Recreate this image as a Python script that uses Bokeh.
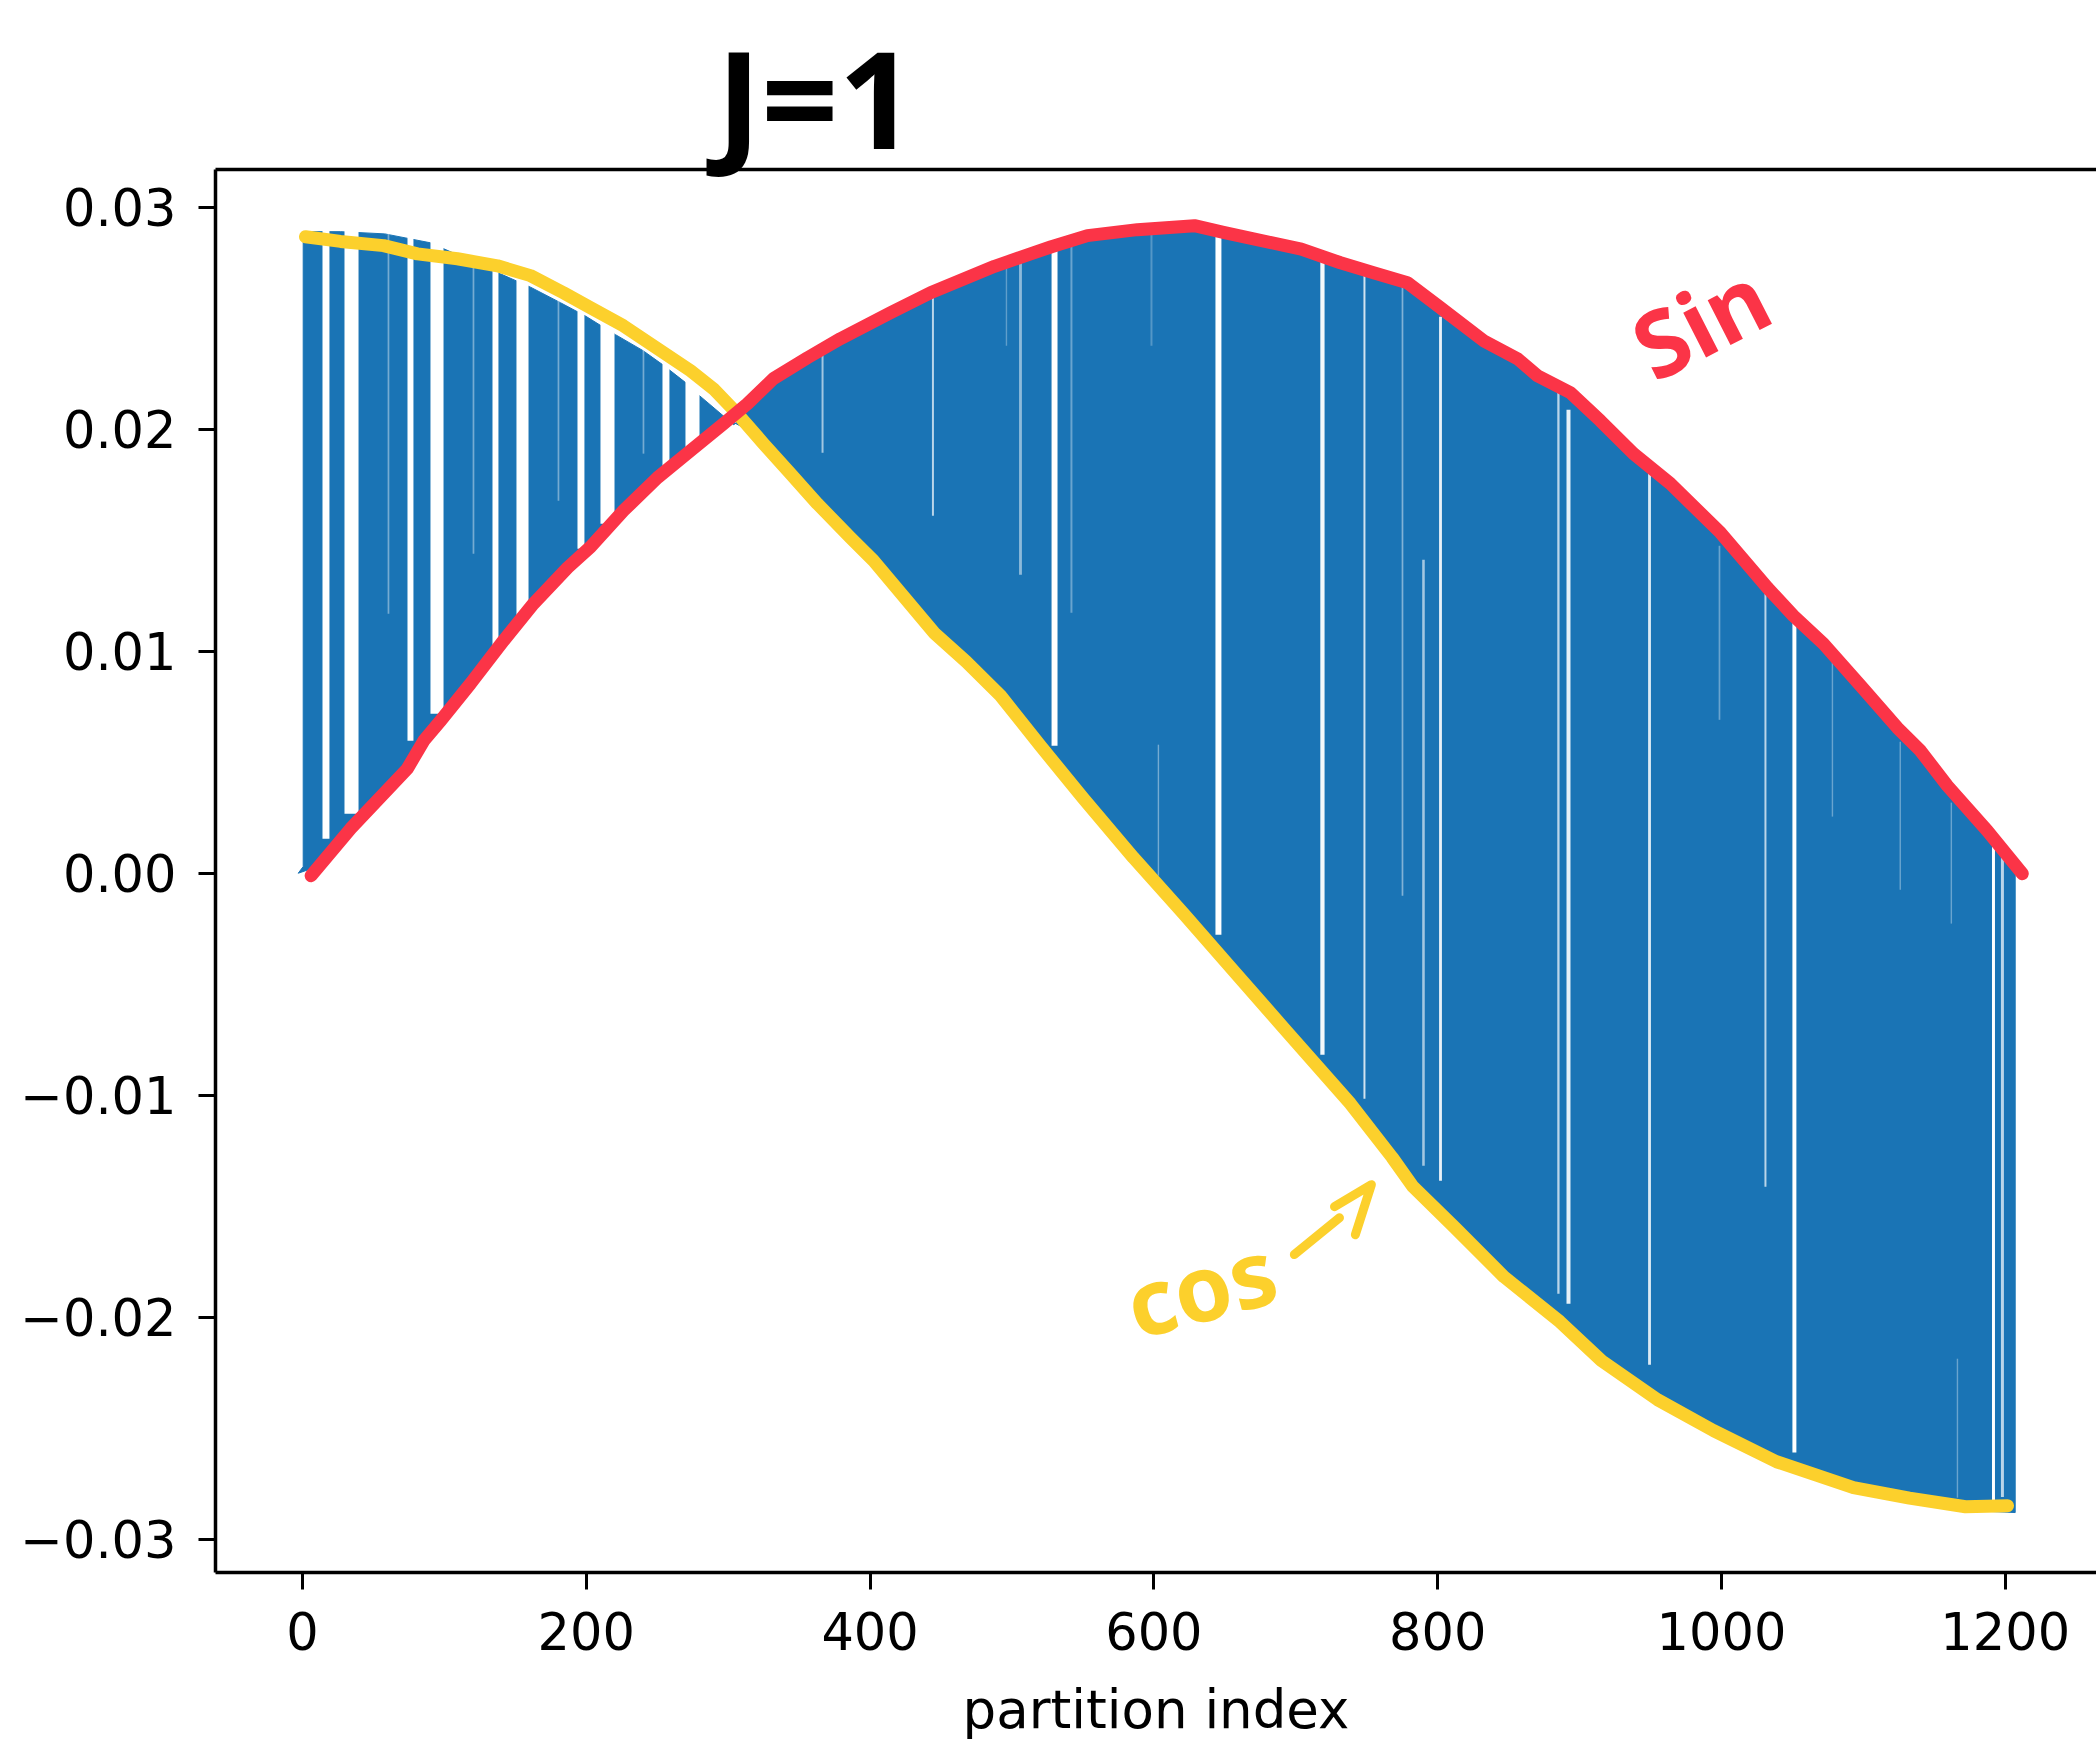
from bokeh.plotting import figure
from bokeh.models import FixedTicker, LinearAxis, Label, Title
from bokeh.embed import file_html
from bokeh.resources import INLINE
import math

# hand-drawn curves
sin_x = [6.1, 33.8, 73.8, 85.5, 97.3, 118.4, 141.6, 162.8, 186.8, 203, 226.2, 250.2, 273.4, 296.7, 313.6, 331.9, 355.9, 379.1, 414.4, 442.6, 487.7, 527.8, 553.2, 588.4, 628.6, 649, 703.9, 731.5, 754.8, 778.7, 802, 832.3, 856.2, 870.3, 893.6, 914.7, 938, 964, 999.3, 1032.4, 1050.7, 1071.9, 1098, 1124, 1140.2, 1159.2, 1187.4, 1212]
sin_y = [-0.00011, 0.002, 0.0047, 0.00597, 0.00687, 0.00854, 0.01047, 0.01214, 0.01376, 0.0147, 0.01633, 0.01782, 0.01903, 0.02025, 0.02115, 0.02228, 0.02322, 0.02408, 0.02525, 0.02615, 0.02734, 0.02822, 0.02872, 0.02899, 0.02917, 0.02887, 0.02811, 0.0275, 0.02705, 0.0266, 0.02547, 0.02399, 0.02318, 0.02241, 0.02164, 0.02038, 0.0189, 0.01755, 0.01534, 0.01286, 0.0116, 0.01034, 0.00845, 0.00655, 0.00552, 0.00394, 0.00191, -0.00002]
cos_x = [2.1, 26.8, 57.1, 81, 109.2, 137.4, 160.7, 183.9, 203, 226.2, 250.2, 273.4, 289.6, 306.5, 324.9, 343.9, 362.9, 386.2, 402.4, 445.1, 467.7, 491.9, 520, 550.4, 585.6, 620.9, 656.1, 691.3, 738.5, 767.9, 782.6, 812.2, 846.7, 886.1, 915.5, 955, 994.4, 1038.8, 1093, 1132.5, 1172, 1201.6]
cos_y = [0.02867, 0.02846, 0.02827, 0.0279, 0.02768, 0.02736, 0.02692, 0.02615, 0.02547, 0.02466, 0.02363, 0.02264, 0.02182, 0.0207, 0.01935, 0.018, 0.01664, 0.01511, 0.01408, 0.01083, 0.00953, 0.008, 0.00574, 0.00336, 0.0007, -0.00182, -0.00439, -0.00696, -0.01038, -0.0128, -0.01412, -0.01597, -0.01818, -0.0202, -0.02196, -0.02372, -0.02511, -0.02651, -0.02768, -0.02815, -0.02854, -0.02849]

# envelope of the blue partition values
upper_x = [0.5, 27, 58, 90, 139.5, 160.7, 181.8, 199.4, 220.6, 240, 254, 270, 280, 304, 313.6, 331.9, 355.9, 379.1, 414.4, 442.6, 487.7, 527.8, 553.2, 588.4, 628.6, 649, 703.9, 731.5, 754.8, 778.7, 802, 832.3, 856.2, 870.3, 893.6, 914.7, 938, 964, 999.3, 1032.4, 1050.7, 1071.9, 1098, 1124, 1140.2, 1159.2, 1187.4, 1207]
upper_y = [0.0289, 0.0289, 0.0288, 0.0284, 0.0270, 0.0264, 0.0257, 0.0251, 0.02426, 0.02354, 0.0229, 0.0221, 0.0215, 0.0202, 0.0208, 0.0222, 0.0233, 0.0241, 0.0254, 0.0263, 0.0275, 0.0283, 0.0288, 0.0290, 0.0291, 0.0288, 0.0280, 0.0274, 0.0270, 0.0264, 0.0251, 0.0238, 0.0231, 0.0223, 0.0215, 0.0203, 0.0188, 0.0175, 0.0153, 0.0128, 0.0115, 0.0103, 0.0084, 0.0065, 0.0055, 0.0039, 0.0019, 0.0004]
lower_x = [0.5, -3, 6.1, 33.8, 73.8, 97.3, 118.4, 141.6, 162.8, 186.8, 203, 226.2, 250.2, 273.4, 296.7, 304, 324.9, 343.9, 362.9, 386.2, 402.4, 445.1, 467.7, 491.9, 520, 550.4, 585.6, 620.9, 656.1, 691.3, 738.5, 767.9, 782.6, 812.2, 846.7, 886.1, 915.5, 955, 994.4, 1038.8, 1093, 1132.5, 1172, 1207]
lower_y = [0.0003, 0.0000, 0.0002, 0.0022, 0.0049, 0.0071, 0.0087, 0.0107, 0.0123, 0.0140, 0.0149, 0.0165, 0.0180, 0.0192, 0.0203, 0.0203, 0.0196, 0.0182, 0.0168, 0.0153, 0.0143, 0.0110, 0.0097, 0.0082, 0.0060, 0.0036, 0.0010, -0.0016, -0.0041, -0.0067, -0.0101, -0.0126, -0.0139, -0.0157, -0.0179, -0.0199, -0.0217, -0.0234, -0.0249, -0.0265, -0.0277, -0.0282, -0.0287, -0.0288]

# breaks in the blue: index, width, top value, bottom value, strength
gap_x = [16.55, 34.55, 76.1, 94.8, 136, 155.05, 196.25, 214.95, 256.15, 274.85,
         60.6, 120.5, 180.4, 240.3,
         366.5, 444.3, 496.1, 506, 530, 541.9, 598.3, 603.2, 645.5, 718.8, 748.4, 775.2, 790, 802,
         885.1, 892.2, 949.3, 998.6, 1031, 1051.4, 1078.2, 1126, 1162, 1166.3, 1191.7, 1198]
gap_w = [4.9, 9.9, 4.2, 9.2, 4.2, 8.5, 4.9, 9.9, 4.9, 9.9,
         1.2, 1.2, 1.2, 1.2,
         1.4, 1.4, 1.0, 2.0, 4.2, 1.4, 1.4, 1.0, 4.2, 3.0, 1.4, 1.2, 1.8, 2.0,
         1.6, 2.8, 2.0, 1.2, 1.4, 2.8, 1.0, 1.0, 1.0, 1.0, 2.1, 2.1]
gap_top = [0.03] * 14 + [
    0.03, 0.03, 0.03, 0.03, 0.03, 0.03, 0.03, 0.00579, 0.03, 0.03, 0.03, 0.03, 0.01412, 0.02507,
    0.03, 0.02088, 0.03, 0.01475, 0.03, 0.03, 0.00953, 0.00592, 0.00318, -0.02187, 0.03, 0.03]
gap_bottom = [0.00155, 0.00268, 0.00597, 0.00718, 0.01025, 0.01146, 0.01462, 0.01574, 0.01827, 0.01912,
              0.01169, 0.01439, 0.01678, 0.0189,
              0.01894, 0.0161, 0.02376, 0.01345, 0.00574, 0.01173, 0.02376, -0.00011, -0.00277, -0.00818, -0.01016, -0.00101, -0.01318, -0.01385,
              -0.01894, -0.01939, -0.02214, 0.00691, -0.01412, -0.0261, 0.00255, -0.00074, -0.00227, -0.02813, -0.02827, -0.0281]
gap_alpha = [1] * 10 + [0.4] * 4 + [0.6, 0.7, 0.3, 0.5, 1, 0.35, 0.25, 0.4, 1, 0.95, 0.8, 0.45, 0.6, 0.9,
                                    0.7, 0.9, 0.85, 0.35, 0.7, 1, 0.35, 0.35, 0.35, 0.35, 1, 0.7]

# axis ticks
x_ticks = [0, 200, 400, 600, 800, 1000, 1200]
y_ticks = [-0.03, -0.02, -0.01, 0.0, 0.01, 0.02, 0.03]
y_tick_labels = ["\u22120.03", "\u22120.02", "\u22120.01", "0.00", "0.01", "0.02", "0.03"]
x_title = "partition index"

# annotations
arrow_xs = [[699, 730.8], [727.3, 753.3, 742]]
arrow_ys = [[-0.01718, -0.01552], [-0.01502, -0.01403, -0.01628]]
head_text = "J=1"
note_text = ["Sin", "cos"]
note_x = [985, 633]
note_y = [0.0249, -0.0186]

BLUE = "#1a74b5"
RED = "#fb3447"
YELLOW = "#fcd02c"
FONT = "DejaVu Sans"
TICK = "51px"

p = figure(width=2096, height=1743, output_backend="svg", toolbar_location=None,
           x_range=(-61.3, 1264.3), y_range=(-0.0315, 0.0317),
           min_border_left=215, min_border_right=0, min_border_top=169, min_border_bottom=171,
           background_fill_color="white", border_fill_color="white")
p.grid.visible = False
p.outline_line_color = None

for ax in (p.xaxis[0], p.yaxis[0]):
    ax.axis_line_width = 3.5
    ax.axis_line_color = "black"
    ax.major_tick_line_width = 3
    ax.major_tick_line_color = "black"
    ax.major_tick_in = 0
    ax.major_tick_out = 17
    ax.minor_tick_line_color = None
    ax.major_label_text_font = FONT
    ax.major_label_text_font_size = TICK
    ax.major_label_text_color = "black"
    ax.major_label_standoff = 22

p.xaxis[0].ticker = FixedTicker(ticks=x_ticks)
p.yaxis[0].ticker = FixedTicker(ticks=y_ticks)
p.yaxis[0].major_label_overrides = dict(zip(y_ticks, y_tick_labels))
p.xaxis[0].axis_label = x_title
p.xaxis[0].axis_label_text_font = FONT
p.xaxis[0].axis_label_text_font_size = "53px"
p.xaxis[0].axis_label_text_font_style = "normal"
p.xaxis[0].axis_label_text_color = "black"
p.xaxis[0].axis_label_standoff = 26

top = LinearAxis(ticker=FixedTicker(ticks=[]), axis_line_width=3.5, axis_line_color="black",
                 major_label_text_font_size="0px", major_tick_line_color=None, minor_tick_line_color=None)
p.add_layout(top, "above")

p.title = Title(text=head_text, text_font="Noto Sans", text_font_style="bold", text_font_size="135px",
                text_color="black", align="left", offset=501, standoff=-40,
                vertical_align="middle", text_baseline="middle")

p.patch(upper_x + lower_x[::-1], upper_y + lower_y[::-1], fill_color=BLUE, line_color=BLUE, line_width=1)
p.quad(left=[x - w / 2 for x, w in zip(gap_x, gap_w)], right=[x + w / 2 for x, w in zip(gap_x, gap_w)],
       top=gap_top, bottom=gap_bottom, fill_color="white", fill_alpha=gap_alpha, line_color=None)

p.line(cos_x, cos_y, line_color=YELLOW, line_width=13, line_cap="round", line_join="round")
p.line(sin_x, sin_y, line_color=RED, line_width=13, line_cap="round", line_join="round")
p.multi_line(arrow_xs, arrow_ys, line_color=YELLOW, line_width=9, line_cap="round", line_join="round")

styles = [(RED, "92px", 27), (YELLOW, "92px", 15)]
for t, x, y, (color, size, ang) in zip(note_text, note_x, note_y, styles):
    p.add_layout(Label(x=x, y=y, text=t, text_color=color, text_font="Noto Sans", text_font_style="bold",
                       text_font_size=size, text_align="center", text_baseline="middle",
                       angle=math.radians(ang)))

open("out.html", "w").write(file_html(p, INLINE))
